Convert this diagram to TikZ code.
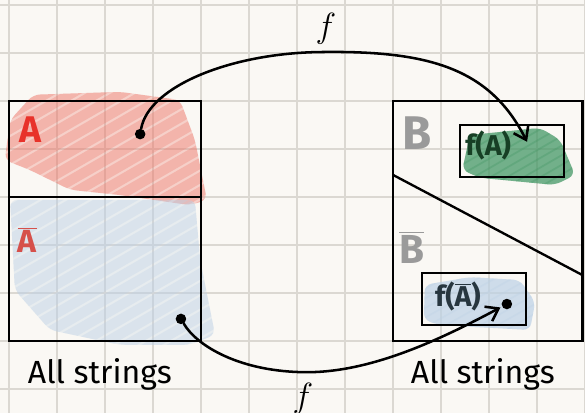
\documentclass[tikz,border=0pt]{standalone}
\usepackage{fontspec}
\setmainfont{Fira Sans}
\usepackage{tikz}
\usetikzlibrary{arrows.meta}
\definecolor{paper}{HTML}{FAF8F4}
\definecolor{gridc}{HTML}{DBD8D2}
\definecolor{redfill}{HTML}{EE7468}
\definecolor{bluefill}{HTML}{BCD1E6}
\definecolor{greenfill}{HTML}{3F9562}
\definecolor{redA}{HTML}{E8322A}
\definecolor{redAbar}{HTML}{D6504A}
\definecolor{grayB}{HTML}{9A9A9A}
\definecolor{darkgreen}{HTML}{173F25}
\definecolor{darkslate}{HTML}{27363F}
\tikzset{
    gridline/.style={draw=gridc, line width=0.9pt},
    frame/.style={line width=1.7pt},
    inframe/.style={line width=1.4pt},
    dot/.style={circle, fill=black, inner sep=0pt, minimum size=2.2mm},
    mapsto/.style={line width=1.5pt, line cap=round,
        -{Straight Barb[length=2.4mm,width=3.4mm,line width=1.5pt]}},
    hatch/.style={draw=#1, line width=6pt, line cap=round, draw opacity=0.3},
    setname/.style={font=\fontsize{22}{24}\selectfont\bfseries},
    imgname/.style={font=\fontsize{17}{19}\selectfont\bfseries},
    caption/.style={font=\fontsize{19}{22}\selectfont}
}
\begin{document}
\begin{tikzpicture}
    \useasboundingbox (0,0) rectangle (12.1875,8.604);
    % Paper and grid
    \fill[paper] (0,0) rectangle (12.1875,8.604);
    \draw[gridline, shift={(0.1875,0.5)}] (-0.1875,-0.5) grid (12,8.104);

    % Coloured areas, scribbled in
    \begin{scope}
        \clip[rounded corners=4pt] (0.1,5.27) -- (0.21,6.1) -- (0.69,6.63) -- (2.5,6.69) -- (3.75,6.52)
            -- (4.06,5.69) -- (4.31,4.44) -- (3.96,4.33) -- (2.5,4.54) -- (1.46,4.65) -- (0.63,5.06) -- cycle;
        \fill[redfill, fill opacity=0.3] (0,4) rectangle (4.5,7);
        \foreach \k in {1.6,1.9,...,6.8}
            \draw[hatch=redfill] (0,\k) -- (4.6,\k+2.65);
    \end{scope}
    \begin{scope}
        \clip[rounded corners=4pt] (0.21,4.44) -- (4.06,4.44) -- (4.17,3.19) -- (4.48,1.63)
            -- (3.96,1.42) -- (2.5,1.42) -- (1.04,1.73) -- (0.31,2.56) -- cycle;
        \fill[bluefill, fill opacity=0.3] (0,1) rectangle (4.6,4.5);
        \foreach \k in {-1.6,-1.3,...,4.4}
            \draw[hatch=bluefill] (0,\k) -- (4.6,\k+2.65);
    \end{scope}
    \begin{scope}
        \clip[rounded corners=4pt] (9.63,5.06) -- (9.79,5.79) -- (11.25,5.94) -- (11.67,5.69)
            -- (11.98,4.96) -- (11.56,4.75) -- (10.0,4.9) -- cycle;
        \fill[greenfill, fill opacity=0.6] (9.5,4.6) rectangle (12.1,6.1);
        \foreach \k in {-1.4,-1.2,...,1.2}
            \draw[hatch=greenfill] (9.5,4.6+\k) -- (12.1,6.1+\k);
    \end{scope}
    \begin{scope}
        \clip[rounded corners=4pt] (8.85,2.67) -- (9.79,2.83) -- (10.83,2.77) -- (11.15,2.31)
            -- (11.04,1.73) -- (9.17,1.83) -- (8.83,1.94) -- cycle;
        \fill[bluefill, fill opacity=0.55] (8.7,1.6) rectangle (11.2,3);
        \foreach \k in {-1.4,-1.2,...,1.2}
            \draw[hatch=bluefill] (8.7,1.6+\k) -- (11.2,3+\k);
    \end{scope}

    % Left square: A over its complement
    \draw[frame] (0.1875,1.5) rectangle (4.1875,6.5);
    \draw[frame] (0.1875,4.5) --++ (4,0);
    \node[setname, text=redA] (labA) at (0.63,5.9) {A};
    \node[setname, text=redAbar, font=\fontsize{19}{22}\selectfont\bfseries] (labAbar) at (0.57,3.6) {$\overline{\mbox{A}}$};

    % Right square: B cut by a slanted line
    \draw[frame] (8.1875,1.5) rectangle (12.14,6.5);
    \draw[inframe] (8.1875,4.96) -- (12.14,2.87);
    \node[setname, text=grayB, font=\fontsize{28}{30}\selectfont\bfseries] (labB) at (8.69,5.83) {B};
    \node[setname, text=grayB, font=\fontsize{24}{26}\selectfont\bfseries] (labBbar) at (8.58,3.45) {$\overline{\mbox{B}}$};

    % Images of A and its complement
    \draw[inframe] (9.58,4.92) rectangle (11.75,6.0);
    \node[imgname, text=darkgreen] (fA) at (10.17,5.58) {f(A)};
    \draw[inframe] (8.79,1.83) rectangle (10.96,2.92);
    \node[imgname, text=darkslate] (fAbar) at (9.54,2.42) {f($\overline{\mbox{A}}$)};

    % The map f
    \node[dot] (dotA) at (2.92,5.81) {};
    \node[dot] (dotAbar) at (3.77,1.96) {};
    \node[dot] (dotfAbar) at (10.56,2.27) {};
    \coordinate (tipA) at (10.98,5.65);
    \draw[mapsto] (dotA) .. controls (3.1,6.8) and (4.8,7.5) .. (6.69,7.52)
        .. controls (8.9,7.55) and (10.2,7.2) .. (tipA);
    \draw[mapsto, shorten >=1pt] (dotAbar) .. controls (4.1,1.4) and (5.0,0.85) .. (6.4,0.85)
        .. controls (7.8,0.85) and (9.3,1.6) .. (dotfAbar);
    \node[font=\fontsize{22}{24}\selectfont] (ftop) at (6.79,8.0) {$f$};
    \node[font=\fontsize{22}{24}\selectfont] (fbot) at (6.31,0.3) {$f$};

    % Captions
    \node[caption] (allL) at (2.08,0.8) {All strings};
    \node[caption] (allR) at (10.06,0.8) {All strings};
\end{tikzpicture}
\end{document}
